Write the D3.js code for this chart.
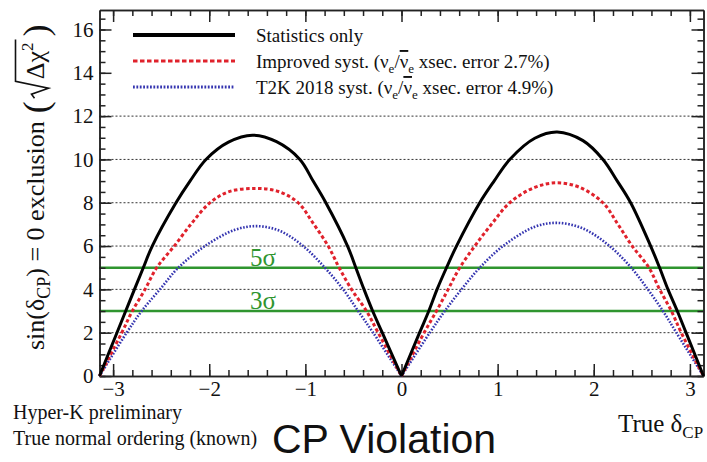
<!DOCTYPE html>
<html>
<head>
<meta charset="utf-8">
<script src="https://cdn.jsdelivr.net/npm/d3@7"></script>
<style>
  body { margin: 0; background: #fff; }
  svg text { font-family: "Liberation Serif", "Times New Roman", serif; fill: #111; }
</style>
</head>
<body>
<svg id="chart" width="707" height="462"></svg>
<script>
// values: [true deltaCP, sqrt(delta chi2)]
var statsOnly = [
  [-3.1416, 0], [-2.96, 2], [-2.869, 3], [-2.778, 4], [-2.686, 5], [-2.593, 6],
  [-2.346, 8], [-2.20, 9], [-2.034, 10], [-1.80, 10.8], [-1.55, 11.12], [-1.30, 10.82],
  [-1.057, 10], [-0.919, 9], [-0.787, 8], [-0.561, 6], [-0.475, 5], [-0.39, 4], [-0.3, 3],
  [-0.2, 2], [0, 0],
  [0.188, 2], [0.284, 3], [0.37, 4], [0.468, 5], [0.572, 6], [0.814, 8], [0.963, 9],
  [1.126, 10], [1.386, 10.98], [1.62, 11.27], [1.888, 10.87], [2.096, 10], [2.245, 9],
  [2.384, 8], [2.592, 6], [2.685, 5], [2.772, 4], [2.869, 3], [2.96, 2], [3.1416, 0]
];
var improvedSyst = [
  [-3.1416, 0], [-2.91, 2], [-2.80, 3], [-2.668, 4], [-2.547, 5], [-2.364, 6],
  [-2.183, 7.05], [-2.0, 7.97], [-1.803, 8.5], [-1.52, 8.66], [-1.28, 8.52], [-1.075, 8],
  [-0.919, 7.05], [-0.763, 6], [-0.648, 5], [-0.52, 4], [-0.364, 3], [-0.243, 2], [0, 0],
  [0.235, 2], [0.364, 3], [0.485, 4], [0.606, 5], [0.762, 6], [0.935, 7.0], [1.126, 8],
  [1.386, 8.71], [1.62, 8.92], [1.853, 8.71], [2.096, 8], [2.252, 7.0], [2.40, 6],
  [2.574, 5], [2.685, 4], [2.807, 3], [2.91, 2], [3.1416, 0]
];
var t2kSyst = [
  [-3.1416, 0], [-2.859, 2], [-2.703, 3], [-2.513, 4], [-2.322, 5], [-2.045, 6],
  [-1.733, 6.75], [-1.50, 6.92], [-1.265, 6.7], [-1.023, 6], [-0.797, 5],
  [-0.607, 4], [-0.451, 3], [-0.295, 2], [0, 0],
  [0.294, 2], [0.45, 3], [0.624, 4], [0.814, 5], [1.056, 6], [1.386, 6.89],
  [1.62, 7.07], [1.888, 6.81], [2.165, 6], [2.39, 5], [2.563, 4], [2.72, 3],
  [2.86, 2], [3.1416, 0]
];

// axes and reference lines
var xTicks = [-3, -2, -1, 0, 1, 2, 3];
var yTicks = [0, 2, 4, 6, 8, 10, 12, 14, 16];
var gridLevels = [2, 4, 6, 8, 10, 12];
var sigmaLevels = [5, 3];
var sigmaLabels = ["5σ", "3σ"];

// legend text pieces (sub = subscript, bar = overline)
var legendStats = [{ t: "Statistics only" }];
var legendImproved = [{ t: "Improved syst. (ν" }, { t: "e", sub: 1 }, { t: "/" }, { t: "ν", bar: 1 }, { t: "e", sub: 1 }, { t: " xsec. error 2.7%)" }];
var legendT2K = [{ t: "T2K 2018 syst. (ν" }, { t: "e", sub: 1 }, { t: "/" }, { t: "ν", bar: 1 }, { t: "e", sub: 1 }, { t: " xsec. error 4.9%)" }];

var svg = d3.select("#chart");

var x = d3.scaleLinear().domain([-Math.PI, Math.PI]).range([99.5, 703.5]);
var y = d3.scaleLinear().domain([0, 16.9]).range([376, 10]);

var minorX = d3.range(-30, 31, 2).map(function (v) { return v / 10; });
var minorY = d3.range(0, 169, 5).map(function (v) { return v / 10; });

// dotted grid
svg.append("g").selectAll("line").data(gridLevels).enter().append("line")
  .attr("x1", x.range()[0]).attr("x2", x.range()[1])
  .attr("y1", function (d) { return y(d); }).attr("y2", function (d) { return y(d); })
  .attr("stroke", "#333").attr("stroke-width", 1).attr("stroke-dasharray", "2,2");

// sigma lines
var green = "#2f952f";
svg.append("g").selectAll("line").data(sigmaLevels).enter().append("line")
  .attr("x1", x.range()[0]).attr("x2", x.range()[1])
  .attr("y1", function (d) { return y(d); }).attr("y2", function (d) { return y(d); })
  .attr("stroke", green).attr("stroke-width", 2.5);
svg.append("g").selectAll("text").data(sigmaLevels).enter().append("text")
  .attr("x", 250).attr("y", function (d) { return y(d) - 2; })
  .attr("font-size", 25).style("fill", green)
  .text(function (d, i) { return sigmaLabels[i]; });

// frame with ticks on all sides
function styleAxis(g) {
  g.attr("font-family", null).attr("font-size", null);
  g.selectAll("path, line").attr("stroke", "#222").attr("stroke-width", 1.5);
  g.selectAll("text").attr("font-size", 21);
}
var fmt = function (d) { return d < 0 ? "\u2212" + Math.abs(d) : d; };

svg.append("g").attr("transform", "translate(0,376)")
  .call(d3.axisBottom(x).tickValues(minorX).tickSize(-6).tickSizeOuter(0).tickFormat(""))
  .call(styleAxis);
svg.append("g").attr("transform", "translate(0,376)")
  .call(d3.axisBottom(x).tickValues(xTicks).tickSize(-12).tickSizeOuter(0).tickPadding(5).tickFormat(fmt))
  .call(styleAxis);
svg.append("g").attr("transform", "translate(0,10)")
  .call(d3.axisTop(x).tickValues(minorX).tickSize(-6).tickSizeOuter(0).tickFormat(""))
  .call(styleAxis);
svg.append("g").attr("transform", "translate(0,10)")
  .call(d3.axisTop(x).tickValues(xTicks).tickSize(-12).tickSizeOuter(0).tickFormat(""))
  .call(styleAxis);
svg.append("g").attr("transform", "translate(99.5,0)")
  .call(d3.axisLeft(y).tickValues(minorY).tickSize(-6).tickSizeOuter(0).tickFormat(""))
  .call(styleAxis);
svg.append("g").attr("transform", "translate(99.5,0)")
  .call(d3.axisLeft(y).tickValues(yTicks).tickSize(-12).tickSizeOuter(0).tickPadding(6))
  .call(styleAxis);
svg.append("g").attr("transform", "translate(703.5,0)")
  .call(d3.axisRight(y).tickValues(minorY).tickSize(-6).tickSizeOuter(0).tickFormat(""))
  .call(styleAxis);
svg.append("g").attr("transform", "translate(703.5,0)")
  .call(d3.axisRight(y).tickValues(yTicks).tickSize(-12).tickSizeOuter(0).tickFormat(""))
  .call(styleAxis);

// curves, each lobe drawn on its own so the cusps stay sharp
var line = d3.line()
  .x(function (d) { return x(d[0]); })
  .y(function (d) { return y(d[1]); })
  .curve(d3.curveCatmullRom.alpha(0.5));

var series = [
  { data: t2kSyst, color: "#3535b0", width: 2.6, dash: "1.6,1.6" },
  { data: improvedSyst, color: "#e0222c", width: 3, dash: "3.5,2.5" },
  { data: statsOnly, color: "#000", width: 3, dash: null }
];
series.forEach(function (s) {
  var lobes = [
    s.data.filter(function (d) { return d[0] <= 0; }),
    s.data.filter(function (d) { return d[0] >= 0; })
  ];
  lobes.forEach(function (lobe) {
    svg.append("path").datum(lobe)
      .attr("d", line)
      .attr("fill", "none")
      .attr("stroke", s.color)
      .attr("stroke-width", s.width)
      .attr("stroke-dasharray", s.dash);
  });
});

// legend
var legendRows = [
  { parts: legendStats, color: "#000", width: 4, dash: null },
  { parts: legendImproved, color: "#e0222c", width: 3, dash: "4.5,2.5" },
  { parts: legendT2K, color: "#3535b0", width: 3, dash: "1.8,1.6" }
];
legendRows.forEach(function (r, i) {
  var ly = 35 + i * 26;
  svg.append("line")
    .attr("x1", 133).attr("x2", 235).attr("y1", ly).attr("y2", ly)
    .attr("stroke", r.color).attr("stroke-width", r.width)
    .attr("stroke-dasharray", r.dash);
  var t = svg.append("text").attr("x", 256).attr("y", ly + 7).attr("font-size", 19);
  var low = 0;
  r.parts.forEach(function (p) {
    var span = t.append("tspan").text(p.t);
    if (p.sub) {
      span.attr("font-size", 13).attr("dy", 5 - low);
      low = 5;
    } else {
      span.attr("dy", -low);
      low = 0;
    }
    if (p.bar) span.style("text-decoration", "overline");
  });
});

// y axis title, rotated
var ylab = svg.append("g").attr("transform", "translate(43.5,350) rotate(-90)");
var t1 = ylab.append("text").attr("font-size", 26);
t1.append("tspan").text("sin(δ");
t1.append("tspan").attr("font-size", 18).attr("dy", 6).text("CP");
t1.append("tspan").attr("dy", -6).text(") = 0 exclusion");
var w1 = t1.node().getComputedTextLength();
var p1 = ylab.append("text").attr("x", w1 + 8).attr("y", 4).attr("font-size", 36).text("(");
var a = w1 + 8 + p1.node().getComputedTextLength() + 3;
var t2 = ylab.append("text").attr("x", a + 19).attr("font-size", 26);
t2.append("tspan").text("Δχ");
t2.append("tspan").attr("font-size", 17).attr("dy", -11).text("2");
var w3 = t2.node().getComputedTextLength();
var end = a + 19 + w3 + 3;
ylab.append("path")
  .attr("d", "M" + a + ",-9 L" + (a + 4) + ",-12 L" + (a + 10) + ",5 L" + (a + 17) + ",-28 H" + end)
  .attr("fill", "none").attr("stroke", "#111").attr("stroke-width", 1.6);
ylab.append("text").attr("x", end + 3).attr("y", 4).attr("font-size", 36).text(")");

// x axis title
var xt = svg.append("text").attr("x", 618).attr("y", 432).attr("font-size", 25);
xt.append("tspan").text("True δ");
xt.append("tspan").attr("font-size", 17).attr("dy", 6).text("CP");

// notes under the plot
svg.append("text").attr("x", 13).attr("y", 419).attr("font-size", 20).text("Hyper-K preliminary");
svg.append("text").attr("x", 13).attr("y", 445).attr("font-size", 20).text("True normal ordering (known)");
svg.append("text").attr("x", 272).attr("y", 453)
  .style("font-family", "'Liberation Sans', Arial, sans-serif")
  .attr("font-size", 41).text("CP Violation");
</script>
</body>
</html>
